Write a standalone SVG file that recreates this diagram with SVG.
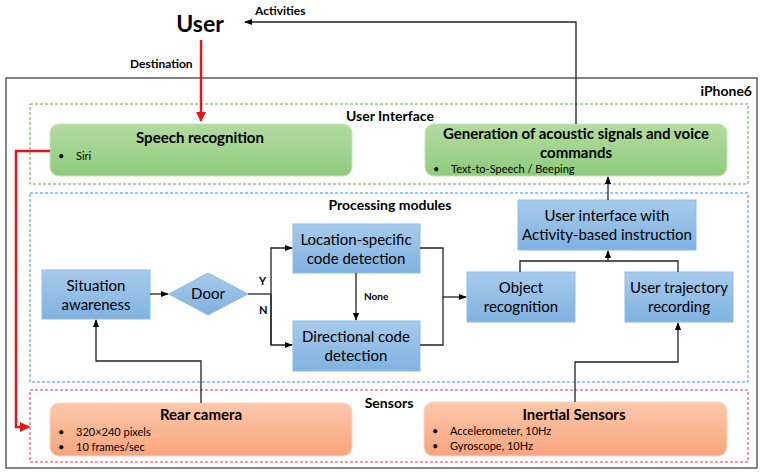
<svg xmlns="http://www.w3.org/2000/svg" width="765" height="475" viewBox="0 0 765 475">
<defs>
<linearGradient id="gG" x1="0" y1="0" x2="0" y2="1"><stop offset="0" stop-color="#b3dca2"/><stop offset="1" stop-color="#8ecb7c"/></linearGradient>
<linearGradient id="gO" x1="0" y1="0" x2="0" y2="1"><stop offset="0" stop-color="#fcc8ab"/><stop offset="1" stop-color="#f9a47d"/></linearGradient>
<linearGradient id="gB" x1="0" y1="0" x2="0" y2="1"><stop offset="0" stop-color="#a7cbec"/><stop offset="1" stop-color="#80b2e0"/></linearGradient>
<marker id="ab" viewBox="0 0 10 10" refX="9" refY="5" markerWidth="6" markerHeight="6" orient="auto-start-reverse"><path d="M0,1 L10,5 L0,9 z" fill="#000"/></marker>
<marker id="ar" viewBox="0 0 10 10" refX="9" refY="5" markerWidth="4" markerHeight="4" orient="auto-start-reverse"><path d="M0,0 L10,5 L0,10 z" fill="#e8141b"/></marker>
</defs>
<style>
text{font-family:Lato,"Liberation Sans",sans-serif;fill:#000}
.b{font-weight:bold}
.t{font-size:15px}
.s{font-size:11px}
.l{font-size:12px;font-weight:bold}
.h{font-size:14px;font-weight:bold}
.g{fill:url(#gG);stroke:#c8e3b8;stroke-width:1}
.o{fill:url(#gO);stroke:#fbd3bd;stroke-width:1}
.bl{fill:url(#gB);stroke:#8fbbe3;stroke-width:1}
.c{fill:none;stroke:#222;stroke-width:1.3}
.cr{fill:none;stroke:#e8141b;stroke-width:2.5}
</style>
<rect id="iphone" x="6" y="78" width="751" height="390" fill="none" stroke="#444" stroke-width="1.3"/>
<text x="752" y="96" text-anchor="end" class="h">iPhone6</text>
<g id="ui-group">
<rect x="30" y="104" width="718" height="80" fill="none" stroke="#4e9a3a" stroke-width="0.9" stroke-dasharray="3,2"/>
<text x="390" y="121" text-anchor="middle" class="h">User Interface</text>
</g>
<g id="proc-group">
<rect x="30" y="193" width="718" height="189" fill="none" stroke="#2e86c1" stroke-width="0.9" stroke-dasharray="3,2"/>
<text x="390" y="210" text-anchor="middle" class="h">Processing modules</text>
</g>
<g id="sensor-group">
<rect x="30" y="390" width="718" height="72" fill="none" stroke="#d6283a" stroke-width="0.9" stroke-dasharray="3,2"/>
<text x="389" y="408" text-anchor="middle" class="h">Sensors</text>
</g>
<g id="user"><text x="200" y="32" text-anchor="middle" class="b" font-size="23">User</text></g>
<g id="speech">
<rect x="50" y="124" width="302" height="52" rx="9" class="g"/>
<text x="200" y="143" text-anchor="middle" class="t b">Speech recognition</text>
<text x="58" y="160" class="s">•</text><text x="76" y="160" class="s">Siri</text>
</g>
<g id="generation">
<rect x="425" y="124" width="302" height="52" rx="9" class="g"/>
<text x="576" y="139" text-anchor="middle" class="t b">Generation of acoustic signals and voice</text>
<text x="576" y="158" text-anchor="middle" class="t b">commands</text>
<text x="433" y="173" class="s">•</text><text x="451" y="173" class="s">Text-to-Speech / Beeping</text>
</g>
<g id="situation">
<rect x="42" y="270" width="108" height="49" class="bl"/>
<text x="96" y="291" text-anchor="middle" class="t">Situation</text>
<text x="96" y="310" text-anchor="middle" class="t">awareness</text>
</g>
<g id="door">
<polygon points="169,294 208,273 248,294 208,315" class="bl"/>
<text x="208" y="299" text-anchor="middle" class="t">Door</text>
</g>
<g id="location">
<rect x="293" y="224" width="127" height="49" class="bl"/>
<text x="356" y="245" text-anchor="middle" class="t">Location-specific</text>
<text x="356" y="264" text-anchor="middle" class="t">code detection</text>
</g>
<g id="directional">
<rect x="293" y="321" width="127" height="50" class="bl"/>
<text x="356" y="342" text-anchor="middle" class="t">Directional code</text>
<text x="356" y="361" text-anchor="middle" class="t">detection</text>
</g>
<g id="object">
<rect x="467" y="272" width="108" height="50" class="bl"/>
<text x="521" y="293" text-anchor="middle" class="t">Object</text>
<text x="521" y="312" text-anchor="middle" class="t">recognition</text>
</g>
<g id="trajectory">
<rect x="625" y="272" width="108" height="50" class="bl"/>
<text x="679" y="293" text-anchor="middle" class="t">User trajectory</text>
<text x="679" y="312" text-anchor="middle" class="t">recording</text>
</g>
<g id="uiactivity">
<rect x="518" y="200" width="178" height="50" class="bl"/>
<text x="607" y="221" text-anchor="middle" class="t">User interface with</text>
<text x="607" y="240" text-anchor="middle" class="t">Activity-based instruction</text>
</g>
<g id="camera">
<rect x="50" y="403" width="302" height="53" rx="9" class="o"/>
<text x="201" y="420" text-anchor="middle" class="t b">Rear camera</text>
<text x="58" y="436" class="s">•</text><text x="76" y="436" class="s">320×240 pixels</text>
<text x="58" y="451" class="s">•</text><text x="76" y="451" class="s">10 frames/sec</text>
</g>
<g id="inertial">
<rect x="424" y="402" width="303" height="54" rx="9" class="o"/>
<text x="574" y="420" text-anchor="middle" class="t b">Inertial Sensors</text>
<text x="432" y="435" class="s">•</text><text x="450" y="435" class="s">Accelerometer, 10Hz</text>
<text x="432" y="450" class="s">•</text><text x="450" y="450" class="s">Gyroscope, 10Hz</text>
</g>
<g id="connectors">
<path d="M201,40 V121" class="cr" marker-end="url(#ar)"/>
<path d="M50,151 H16 V427 H29" class="cr" marker-end="url(#ar)"/>
<path d="M576,124 V22 H245" class="c" marker-end="url(#ab)"/>
<path d="M608,200 V177" class="c" marker-end="url(#ab)"/>
<path d="M150,294 H168" class="c" marker-end="url(#ab)"/>
<path d="M248,294 H271" class="c"/>
<path d="M271,345 V248 H292" class="c" marker-end="url(#ab)"/>
<path d="M271,294 V345 H292" class="c" marker-end="url(#ab)"/>
<path d="M356,273 V320" class="c" marker-end="url(#ab)"/>
<path d="M420,248 H443 V345 H420" class="c"/>
<path d="M443,297 H466" class="c" marker-end="url(#ab)"/>
<path d="M520,272 V261 H678 V272" class="c"/>
<path d="M608,261 V251" class="c" marker-end="url(#ab)"/>
<path d="M575,402 V362 H678 V323" class="c" marker-end="url(#ab)"/>
<path d="M201,403 V361 H96 V320" class="c" marker-end="url(#ab)"/>
<text x="255" y="15" class="l">Activities</text>
<text x="130" y="68" class="l">Destination</text>
<text x="259" y="285" class="b" font-size="11">Y</text>
<text x="259" y="314" class="b" font-size="11">N</text>
<text x="364" y="300" class="b" font-size="10">None</text>
</g>
</svg>
